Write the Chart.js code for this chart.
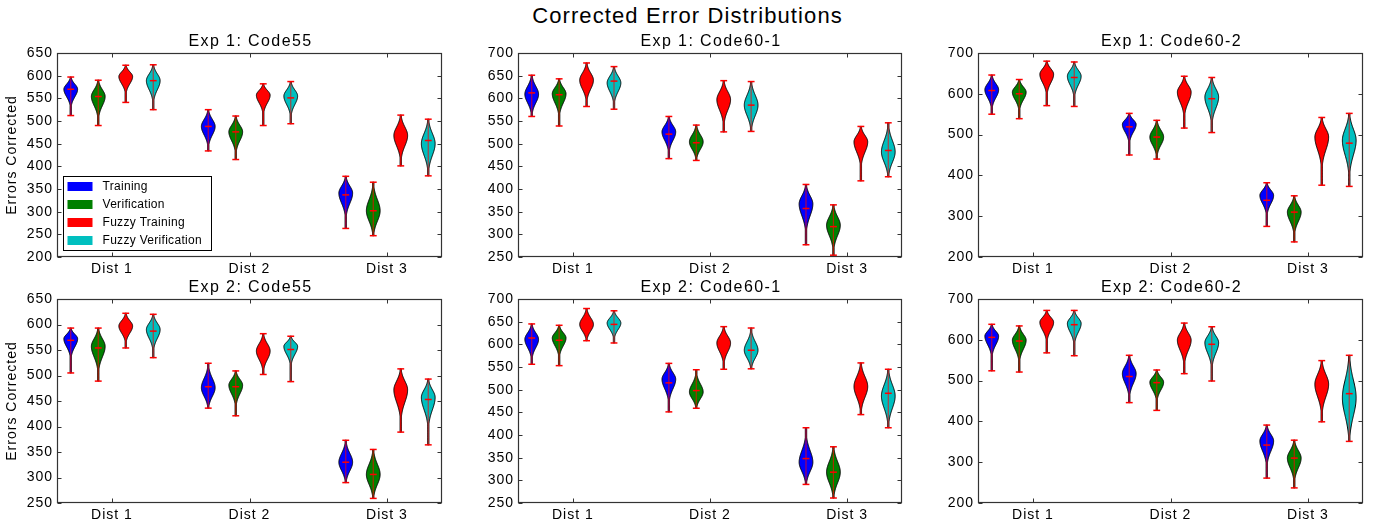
<!DOCTYPE html>
<html><head><meta charset="utf-8">
<script src="https://cdn.jsdelivr.net/npm/chart.js@4.4.0/dist/chart.umd.min.js"></script>
<style>
html,body{margin:0;padding:0;background:#fff;width:1375px;height:523px;overflow:hidden;position:relative;}
#figtitle{position:absolute;left:0;width:1375px;top:3px;text-align:center;font:22px "Liberation Sans",Arial,sans-serif;letter-spacing:1.1px;line-height:26px;color:#000;white-space:nowrap;}
.panel{position:absolute;}
.panel canvas{display:block;}
</style></head><body>
<div id="figtitle">Corrected Error Distributions</div>
<script>
// ---------------- data ----------------
const categories = ['Dist 1', 'Dist 2', 'Dist 3'];
const seriesNames = ['Training', 'Verification', 'Fuzzy Training', 'Fuzzy Verification'];
const seriesColors = ['#0000ff', '#008000', '#ff0000', '#00bfbf'];
const seriesOffsets = [-0.3, -0.1, 0.1, 0.3];
const panelTitles = ['Exp 1: Code55', 'Exp 1: Code60-1', 'Exp 1: Code60-2', 'Exp 2: Code55', 'Exp 2: Code60-1', 'Exp 2: Code60-2'];
const yAxisMin = [200, 250, 200, 250, 250, 200];
const yAxisMax = [650, 700, 700, 650, 700, 700];
const yAxisStep = [50, 50, 100, 50, 50, 100];

// [panel][series][dist]
const violinMin = [
  [[512,434,263],[490,415,247],[541,490,401],[525,494,379]],
  [[560,467,277],[539,463,254],[582,526,418],[576,527,427]],
  [[550,450,275],[539,440,237],[571,516,376],[569,505,373]],
  [[505,436,290],[489,421,259],[554,502,389],[535,488,364]],
  [[556,451,291],[553,459,261],[608,545,445],[603,546,416]],
  [[524,446,261],[521,427,237],[568,517,399],[561,499,351]]
];
const violinMax = [
  [[597,525,378],[590,511,365],[623,582,513],[624,587,504]],
  [[651,560,410],[643,541,365],[678,639,538],[670,637,546]],
  [[646,552,382],[635,535,350],[680,643,542],[678,640,552]],
  [[593,524,373],[593,509,355],[622,582,513],[620,577,493]],
  [[645,558,416],[642,544,374],[679,639,559],[674,636,545]],
  [[638,562,391],[634,526,354],[672,641,549],[672,632,562]]
];
const violinMean = [
  [[570,488,337],[554,476,302],[598,555,466],[589,551,457]],
  [[612,521,357],[608,502,317],[640,596,504],[638,585,485]],
  [[608,519,339],[600,494,310],[648,604,494],[640,588,479]],
  [[569,478,330],[554,478,306],[593,548,470],[587,551,453]],
  [[614,515,348],[609,498,318],[644,603,507],[644,587,492]],
  [[606,510,342],[597,495,310],[643,601,491],[637,589,468]]
];
const violinMode = [
  [[570,488,341],[554,476,302],[598,557,468],[589,555,450]],
  [[609,526,367],[610,504,320],[640,597,504],[634,585,482]],
  [[610,525,351],[604,494,310],[648,604,494],[643,592,486]],
  [[572,476,330],[557,481,306],[597,548,472],[590,557,457]],
  [[611,523,340],[614,495,318],[644,603,507],[647,587,486]],
  [[609,517,352],[599,496,310],[643,599,491],[640,593,458]]
];

// ---------------- layout ----------------
const FONT = '"Liberation Sans", Arial, sans-serif';
const plotLefts = [57, 518, 978];
const plotWidths = [385, 384, 385];
const plotTops = [53, 299];
const plotH = 204;
const AXW = 57, PADT = 30, AXH = 26, PADR = 4;
const VIOLIN_W = 0.1;

function drawViolin(ctx, xs, ys, cx, d, color) {
  const mn = d.min, mx = d.max, mode = d.mode;
  const up = Math.max(mx - mode, 1), dn = Math.max(mode - mn, 1);
  const minD = Math.min(up, dn);
  const sU = Math.sqrt(up * minD) / 2.4, sD = Math.sqrt(dn * minD) / 2.4;
  const xc = xs.getPixelForValue(cx);
  const pxHalf = Math.abs(xs.getPixelForValue(cx + VIOLIN_W / 2) - xc);
  const N = 90, pts = [];
  for (let i = 0; i <= N; i++) {
    const v = mn + (mx - mn) * i / N;
    const z = (v - mode) / (v > mode ? sU : sD);
    const w = Math.max(pxHalf * Math.exp(-0.5 * z * z), 0.7);
    pts.push([w, ys.getPixelForValue(v)]);
  }
  ctx.save();
  ctx.beginPath();
  pts.forEach((p, i) => i ? ctx.lineTo(xc + p[0], p[1]) : ctx.moveTo(xc + p[0], p[1]));
  for (let i = pts.length - 1; i >= 0; i--) ctx.lineTo(xc - pts[i][0], pts[i][1]);
  ctx.closePath();
  ctx.fillStyle = color;
  ctx.fill();
  ctx.strokeStyle = '#000';
  ctx.lineWidth = 1;
  ctx.stroke();
  // red lines: bar, caps, mean
  const capHalf = pxHalf / 2;
  ctx.strokeStyle = 'rgba(255,0,0,0.65)';
  ctx.lineWidth = 1.2;
  ctx.beginPath();
  ctx.moveTo(xc, ys.getPixelForValue(mn));
  ctx.lineTo(xc, ys.getPixelForValue(mx));
  ctx.stroke();
  ctx.strokeStyle = '#ff0000';
  ctx.lineWidth = 1.5;
  [mn, mx, d.y].forEach(v => {
    const py = ys.getPixelForValue(v);
    ctx.beginPath();
    ctx.moveTo(xc - capHalf, py);
    ctx.lineTo(xc + capHalf, py);
    ctx.stroke();
  });
  ctx.restore();
}

const violinPlugin = {
  id: 'violins',
  beforeDraw(chart) {
    chart.ctx.letterSpacing = '1px';
  },
  afterDatasetsDraw(chart) {
    const ctx = chart.ctx, xs = chart.scales.x, ys = chart.scales.y;
    chart.data.datasets.forEach((ds) => {
      ds.data.forEach(d => drawViolin(ctx, xs, ys, d.x, d, ds.fillColor));
    });
  },
  afterDraw(chart) {
    const ctx = chart.ctx, a = chart.chartArea, xs = chart.scales.x, ys = chart.scales.y;
    const p = chart.options.plugins.violins.panel;
    ctx.save();
    ctx.letterSpacing = '0px';
    // frame
    ctx.strokeStyle = '#333';
    ctx.lineWidth = 1.2;
    const L = Math.round(a.left) + 0.5, R = Math.round(a.right) - 0.5, T = Math.round(a.top) + 0.5, B = Math.round(a.bottom) - 0.5;
    ctx.strokeRect(L, T, R - L, B - T);
    // inward ticks
    ctx.lineWidth = 1;
    ctx.beginPath();
    ys.ticks.forEach(t => {
      const py = Math.round(ys.getPixelForValue(t.value)) + 0.5;
      ctx.moveTo(L, py); ctx.lineTo(L + 4, py);
      ctx.moveTo(R, py); ctx.lineTo(R - 4, py);
    });
    xs.ticks.forEach(t => {
      const px = Math.round(xs.getPixelForValue(t.value)) + 0.5;
      ctx.moveTo(px, B); ctx.lineTo(px, B - 4);
      ctx.moveTo(px, T); ctx.lineTo(px, T + 4);
    });
    ctx.stroke();
    // subplot title
    ctx.letterSpacing = '1.4px';
    ctx.fillStyle = '#000';
    ctx.font = '16px ' + FONT;
    ctx.textAlign = 'center';
    ctx.textBaseline = 'alphabetic';
    ctx.fillText(panelTitles[p], (a.left + a.right) / 2 + 1, a.top - 7);
    // legend (first panel only)
    if (p === 0) {
      const bl = Math.round(a.left) + 6.5, bt = Math.round(a.bottom) - 81 + 0.5;
      const bw = 148, bh = 74;
      ctx.fillStyle = '#fff';
      ctx.fillRect(bl, bt, bw, bh);
      ctx.strokeStyle = '#000';
      ctx.lineWidth = 1;
      ctx.strokeRect(bl, bt, bw, bh);
      ctx.font = '12px ' + FONT;
      ctx.letterSpacing = '0.3px';
      ctx.textAlign = 'left';
      ctx.textBaseline = 'middle';
      seriesNames.forEach((name, i) => {
        const cy = bt + 10 + i * 18;
        ctx.fillStyle = seriesColors[i];
        ctx.fillRect(bl + 4, cy - 4.5, 25, 9);
        ctx.fillStyle = '#000';
        ctx.fillText(name, bl + 39, cy + 0.5);
      });
    }
    ctx.restore();
  }
};

for (let p = 0; p < 6; p++) {
  const col = p % 3, row = Math.floor(p / 3);
  const div = document.createElement('div');
  div.className = 'panel';
  const W = AXW + plotWidths[col] + PADR, H = PADT + plotH + AXH;
  div.style.left = (plotLefts[col] - AXW) + 'px';
  div.style.top = (plotTops[row] - PADT) + 'px';
  div.style.width = W + 'px';
  div.style.height = H + 'px';
  const cv = document.createElement('canvas');
  div.appendChild(cv);
  document.body.appendChild(div);

  const datasets = seriesNames.map((name, s) => ({
    label: name,
    fillColor: seriesColors[s],
    pointRadius: 0,
    showLine: false,
    data: categories.map((c, k) => ({
      x: k + 1 + seriesOffsets[s],
      y: violinMean[p][s][k],
      min: violinMin[p][s][k],
      max: violinMax[p][s][k],
      mode: violinMode[p][s][k]
    }))
  }));

  new Chart(cv, {
    type: 'scatter',
    data: { datasets },
    plugins: [violinPlugin],
    options: {
      responsive: true,
      maintainAspectRatio: false,
      devicePixelRatio: 1,
      animation: false,
      events: [],
      layout: { padding: { top: PADT, right: PADR, left: 0, bottom: 0 } },
      plugins: {
        legend: { display: false },
        tooltip: { enabled: false },
        title: { display: false },
        violins: { panel: p }
      },
      scales: {
        x: {
          type: 'linear', min: 0.6, max: 3.4,
          grid: { display: false, drawTicks: false },
          border: { display: false },
          afterBuildTicks: (ax) => { ax.ticks = categories.map((c, k) => ({ value: k + 1 })); },
          afterFit: (ax) => { ax.height = AXH; },
          ticks: {
            autoSkip: false, maxRotation: 0, padding: 4, color: '#000',
            font: { family: FONT, size: 14 },
            callback: (v) => categories[Math.round(v) - 1]
          }
        },
        y: {
          type: 'linear', min: yAxisMin[p], max: yAxisMax[p],
          grid: { display: false, drawTicks: false },
          border: { display: false },
          afterFit: (ax) => { ax.width = AXW; },
          ticks: { stepSize: yAxisStep[p], padding: 4, color: '#000', font: { family: FONT, size: 14 } },
          title: {
            display: col === 0, text: 'Errors Corrected', color: '#000',
            font: { family: FONT, size: 14 }, padding: { top: 4, bottom: 0 }
          }
        }
      }
    }
  });
}
</script>
</body></html>
